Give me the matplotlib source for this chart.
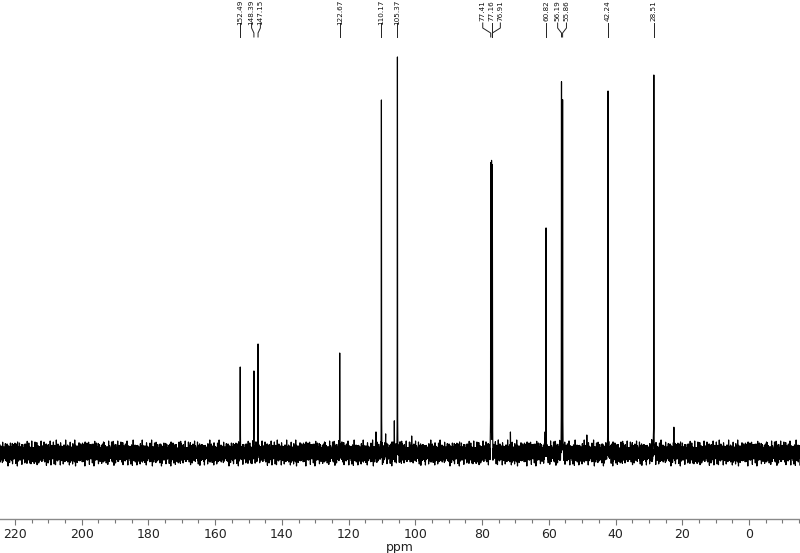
import numpy as np
import matplotlib
matplotlib.use("Agg")
import matplotlib.pyplot as plt
from matplotlib.ticker import MultipleLocator

# ---- data ----
peak_ppm = [152.49, 148.39, 147.15, 122.67, 110.17, 105.37,
            77.41, 77.16, 76.91, 60.82, 56.19, 55.86, 42.24, 28.51]
peak_height = [86, 82, 109, 100, 353, 396,
               288, 289, 286, 223, 370, 352, 362, 378]
peak_labels = ["152.49", "148.39", "147.15", "122.67", "110.17", "105.37",
               "77.41", "77.16", "76.91", "60.82", "56.19", "55.86", "42.24", "28.51"]

minor_ppm = [111.8, 108.9, 106.3, 101.1, 71.5, 61.1, 48.6, 22.5]
minor_height = [21, 19, 32, 17, 21, 20, 18, 23]

# baseline noise texture (relative excursions read as typical values)
noise_pattern = [0.8, -0.9, 0.3, -0.5, 1.0, -0.7, 0.6, -1.0, 0.2, -0.8, 0.9, -0.4,
                 0.7, -0.95, 0.5, -0.6, 1.0, -0.3, 0.4, -1.0, 0.85, -0.65, 0.15]
noise_mod = [1.0, 0.7, 1.2, 0.85, 0.6, 1.1, 0.9, 1.3, 0.75]
noise_level = 10.0

xticks = [220, 200, 180, 160, 140, 120, 100, 80, 60, 40, 20, 0]
x_left, x_right = 224.5, -15.3

# ---- build spectrum ----
grid = np.arange(x_left, x_right, -0.08)
n = np.arange(len(grid))
pat = np.array(noise_pattern)[n % len(noise_pattern)]
mod = np.array(noise_mod)[(n // 4) % len(noise_mod)]
noise = noise_level * pat * mod

all_ppm = np.array(peak_ppm + minor_ppm)
all_h = np.array(peak_height + minor_height, dtype=float)
x = np.concatenate([grid, all_ppm])
base = np.concatenate([noise, np.zeros(len(all_ppm))])
order = np.argsort(-x)
x = x[order]
base = base[order]
hw = 0.02
y = base.copy()
for p, h in zip(all_ppm, all_h):
    y += h * hw**2 / ((x - p)**2 + hw**2)

# ---- figure ----
fig = plt.figure(figsize=(8.0, 5.53), dpi=100)
H = 553.0
ax = fig.add_axes([0, 34 / H, 1, 519 / H])
ax.plot(x, y, color="black", lw=0.85)
ax.set_xlim(x_left, x_right)
ax.set_ylim(-66, 453)

for s in ["top", "left", "right"]:
    ax.spines[s].set_visible(False)
ax.spines["bottom"].set_color("#8a8a8a")
ax.spines["bottom"].set_linewidth(1.0)
ax.set_yticks([])
ax.set_xticks(xticks)
ax.xaxis.set_minor_locator(MultipleLocator(5))
ax.tick_params(axis="x", which="major", length=4, width=0.8, color="#777777",
               labelsize=9, labelcolor="#222222", pad=2.5)
ax.tick_params(axis="x", which="minor", length=3, width=0.8, color="#777777")
fig.text(0.5, 1 - 547 / H, "ppm", ha="center", va="center", fontsize=9, color="#222222")

# ---- peak labels with spreading ----
px_per_ppm = 800 / (x_left - x_right)
sep = 8.8 / px_per_ppm
pos = list(peak_ppm)
for _ in range(200):
    moved = False
    for i in range(len(pos) - 1):
        gap = pos[i] - pos[i + 1]
        if gap < sep - 1e-6:
            d = (sep - gap) / 2
            pos[i] += d
            pos[i + 1] -= d
            moved = True
    if not moved:
        break

for lx, p, lab in zip(pos, peak_ppm, peak_labels):
    ax.text(lx, 453, lab, rotation=90, ha="center", va="top", fontsize=5.2,
            color="#111111")
    ax.plot([lx, lx, p, p], [430, 425, 420, 416], color="#222222", lw=0.7)

fig.savefig("out.png", dpi=100)
